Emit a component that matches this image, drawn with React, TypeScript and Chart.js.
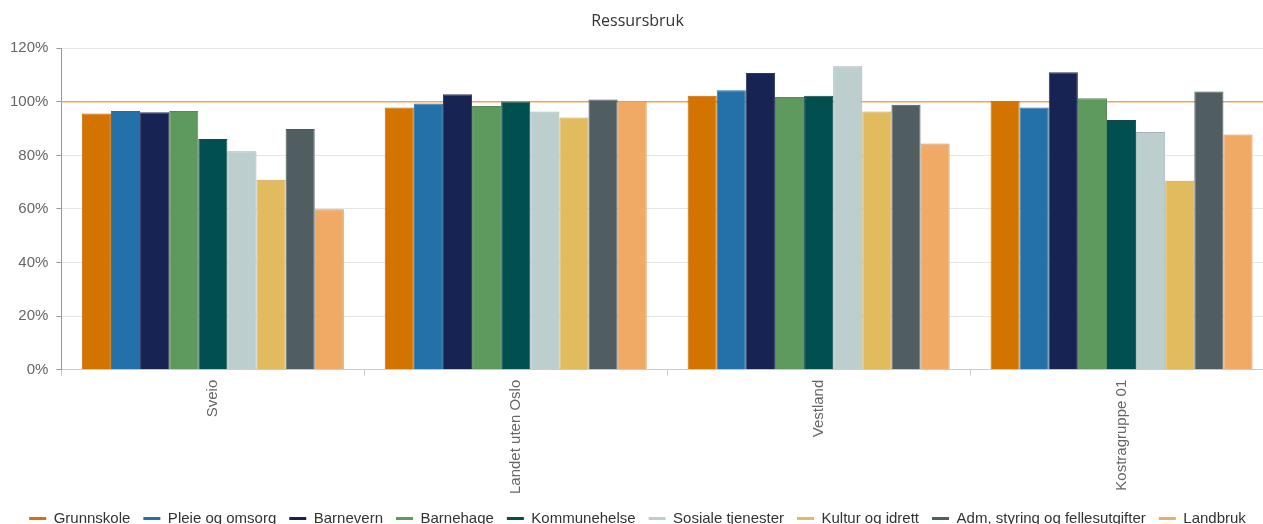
import React, { useEffect, useRef } from "react";
import { Chart, registerables } from "chart.js";

Chart.register(...registerables);

const chartTitle = "Ressursbruk";
const categories = ["Sveio", "Landet uten Oslo", "Vestland", "Kostragruppe 01"];

const seriesNames = [
  "Grunnskole",
  "Pleie og omsorg",
  "Barnevern",
  "Barnehage",
  "Kommunehelse",
  "Sosiale tjenester",
  "Kultur og idrett",
  "Adm, styring og fellesutgifter",
  "Landbruk",
];

const grunnskole = [95.6, 97.9, 102.3, 100.4];
const pleieOgOmsorg = [96.6, 99.4, 104.3, 97.9];
const barnevern = [96.1, 102.8, 110.7, 111.0];
const barnehage = [96.6, 98.4, 101.8, 101.3];
const kommunehelse = [86.1, 100.1, 102.3, 93.2];
const sosialeTjenester = [81.5, 96.4, 113.3, 88.7];
const kulturOgIdrett = [70.9, 94.1, 96.4, 70.5];
const admStyring = [89.8, 100.9, 98.9, 103.8];
const landbruk = [59.9, 100.4, 84.4, 87.8];

const seriesValues = [
  grunnskole,
  pleieOgOmsorg,
  barnevern,
  barnehage,
  kommunehelse,
  sosialeTjenester,
  kulturOgIdrett,
  admStyring,
  landbruk,
];

const fillColors = [
  "#d37400",
  "#2471a9",
  "#172352",
  "#5e9a5e",
  "#024f4f",
  "#bccfce",
  "#e2bb5f",
  "#505e62",
  "#f0aa66",
];

const borderColors = [
  "#c06a00",
  "#2a6a98",
  "#2c3660",
  "#55895a",
  "#124a4a",
  "#9fb5b5",
  "#c8a452",
  "#4a5659",
  "#d69558",
];

const yMin = 0;
const yMax = 120;
const yStep = 20;
const referenceValue = 100;
const referenceColor = "#f4a35a";

const referenceLinePlugin = {
  id: "referenceLine",
  beforeDatasetsDraw(chart: any) {
    const y = chart.scales.y.getPixelForValue(referenceValue);
    const { left, right } = chart.chartArea;
    const ctx = chart.ctx;
    ctx.save();
    ctx.strokeStyle = referenceColor;
    ctx.lineWidth = 1.5;
    ctx.beginPath();
    ctx.moveTo(left, y);
    ctx.lineTo(right + 20, y);
    ctx.stroke();
    ctx.restore();
  },
};

const sansFamily = "'Liberation Sans', Arial, sans-serif";

export default function App() {
  const canvasRef = useRef<HTMLCanvasElement | null>(null);

  useEffect(() => {
    if (!canvasRef.current) return;
    const chart = new Chart(canvasRef.current, {
      type: "bar",
      data: {
        labels: categories,
        datasets: seriesNames.map((name, i) => ({
          label: name,
          data: seriesValues[i],
          backgroundColor: fillColors[i],
          borderColor: borderColors[i],
          borderWidth: 1,
          barPercentage: 1,
          categoryPercentage: 0.865,
        })),
      },
      options: {
        animation: false,
        responsive: true,
        maintainAspectRatio: false,
        layout: { padding: { left: 2, right: 10, top: 0, bottom: -12 } },
        plugins: {
          title: {
            display: true,
            text: chartTitle,
            color: "#333333",
            font: { family: "'Open Sans', sans-serif", size: 16, weight: "normal" },
            padding: { top: 12, bottom: 17 },
          },
          legend: {
            position: "bottom",
            labels: {
              boxWidth: 17,
              boxHeight: 3,
              color: "#333333",
              padding: 13,
              font: { family: sansFamily, size: 15 },
              generateLabels: (c: any) =>
                c.data.datasets.map((ds: any, i: number) => ({
                  text: ds.label,
                  fillStyle: fillColors[i],
                  strokeStyle: fillColors[i],
                  lineWidth: 0,
                  hidden: false,
                  datasetIndex: i,
                  fontColor: "#333333",
                })),
            },
          },
          tooltip: { enabled: false },
        },
        scales: {
          x: {
            offset: true,
            grid: {
              display: true,
              drawOnChartArea: false,
              drawTicks: true,
              tickLength: 6,
              tickColor: "#cccccc",
              offset: true,
            },
            border: { display: true, color: "#cccccc" },
            ticks: {
              minRotation: 90,
              maxRotation: 90,
              color: "#666666",
              padding: 4,
              font: { family: sansFamily, size: 15 },
            },
          },
          y: {
            min: yMin,
            max: yMax,
            ticks: {
              stepSize: yStep,
              color: "#666666",
              padding: 8,
              font: { family: sansFamily, size: 15 },
              callback: (v: any) => `${v}%`,
            },
            grid: {
              color: "#e6e6e6",
              tickColor: "#999999",
              tickLength: 5,
            },
            border: { display: true, color: "#999999" },
          },
        },
      },
      plugins: [referenceLinePlugin],
    });
    return () => chart.destroy();
  }, []);

  return (
    <div
      style={{
        position: "absolute",
        left: 0,
        top: 0,
        width: 1263,
        height: 524,
        overflow: "hidden",
        background: "#ffffff",
      }}
    >
      <div style={{ position: "relative", width: 1283, height: 524 }}>
        <canvas ref={canvasRef} />
      </div>
    </div>
  );
}
